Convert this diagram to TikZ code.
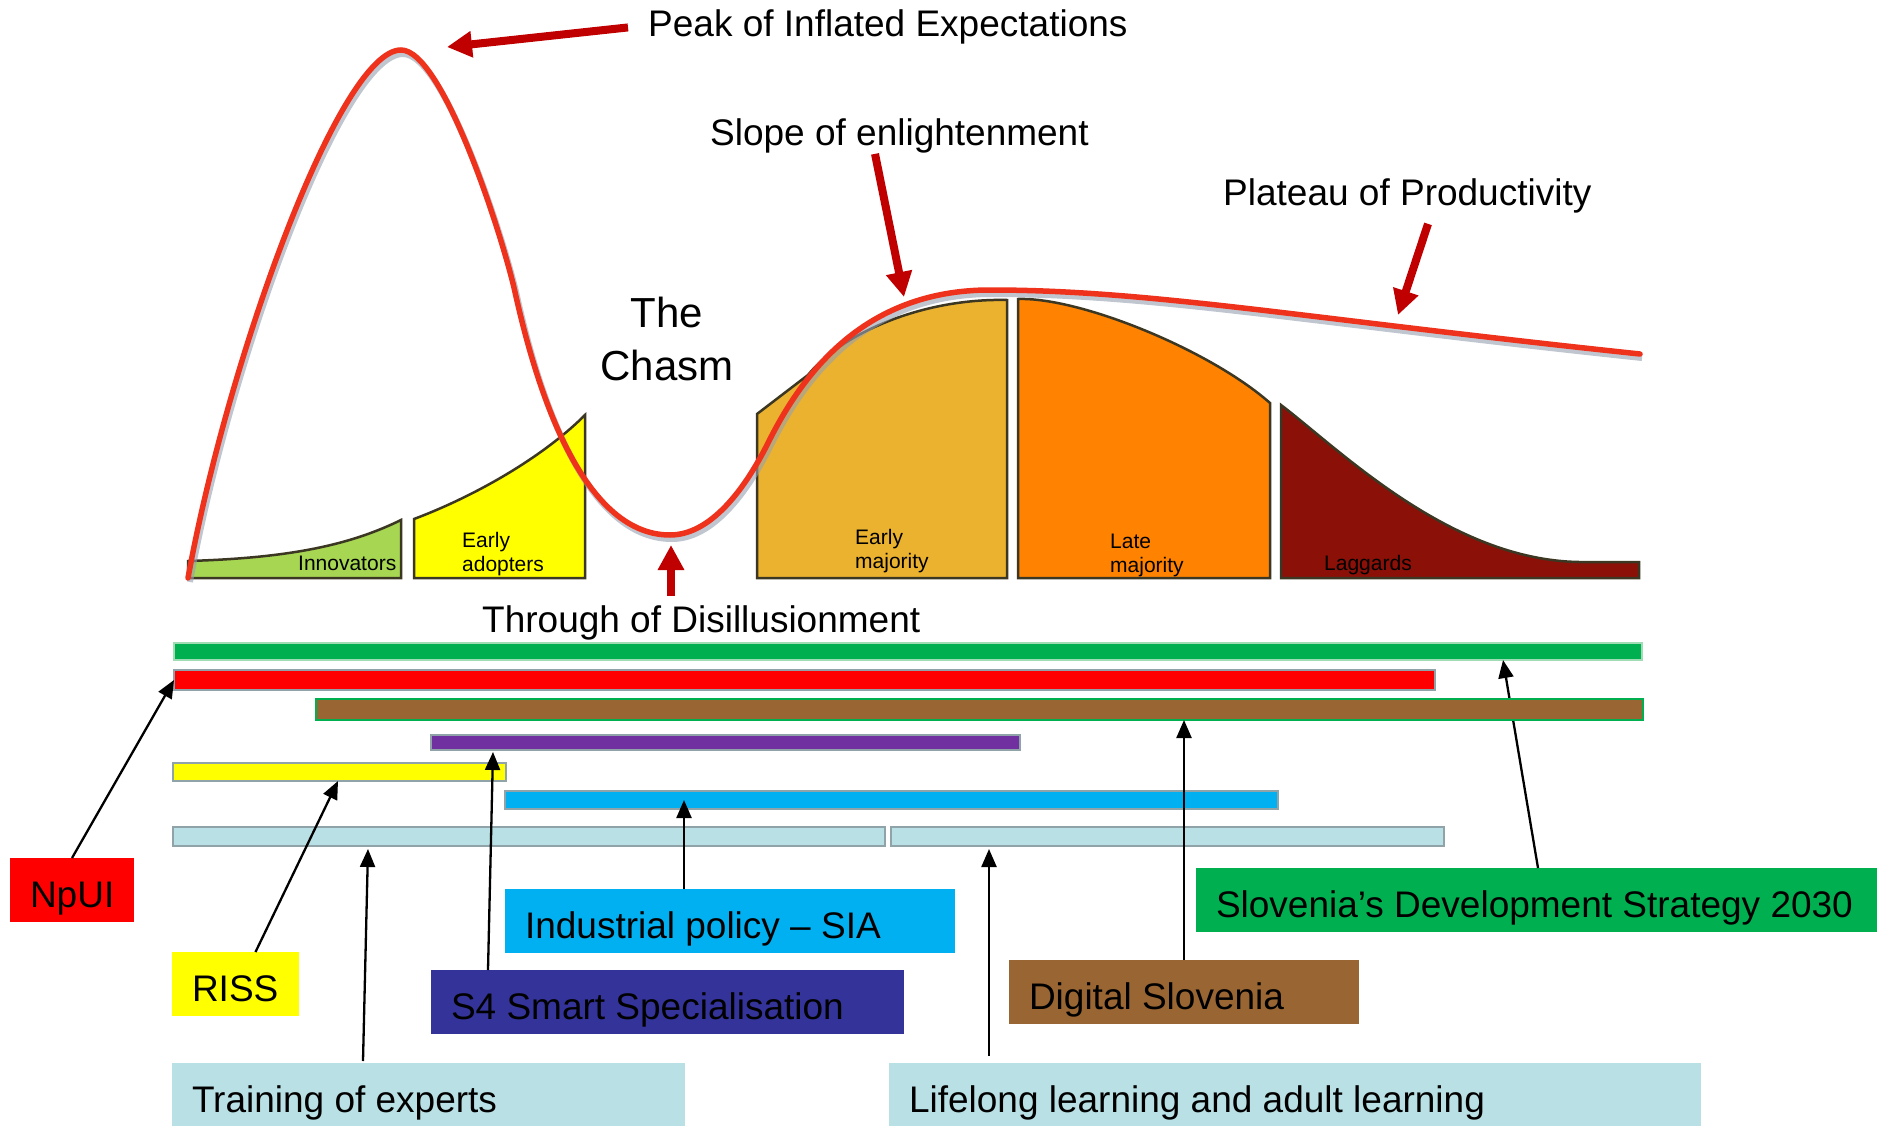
\documentclass[tikz,border=0pt]{standalone}
\usepackage{fontspec}
\setmainfont{Liberation Sans}
\usetikzlibrary{arrows.meta}
\definecolor{innov}{RGB}{166,214,82}
\definecolor{eadopt}{RGB}{255,255,0}
\definecolor{emaj}{RGB}{235,178,47}
\definecolor{lmaj}{RGB}{255,130,0}
\definecolor{lagg}{RGB}{139,16,8}
\definecolor{segline}{RGB}{60,55,35}
\definecolor{hypered}{RGB}{238,50,28}
\definecolor{hypeshadow}{RGB}{150,160,175}
\definecolor{arrred}{RGB}{192,0,0}
\definecolor{gfill}{RGB}{0,176,80}
\definecolor{glight}{RGB}{160,220,180}
\definecolor{barout}{RGB}{143,163,168}
\definecolor{brownfill}{RGB}{153,102,51}
\definecolor{purp}{RGB}{112,48,160}
\definecolor{skyb}{RGB}{0,176,240}
\definecolor{lblue}{RGB}{185,224,228}
\definecolor{navyb}{RGB}{51,51,153}
\begin{document}
\begin{tikzpicture}[x=1pt,y=-1pt,
  seg/.style={draw=segline, line width=2.5pt, line join=miter},
  smlbl/.style={font=\fontsize{21}{24}\selectfont, anchor=base west, inner sep=0pt, align=left},
  biglbl/.style={font=\fontsize{37}{44}\selectfont, anchor=base west, inner sep=0pt},
  hype/.style={draw=hypered, line width=5.5pt, line cap=round},
  redarr/.style={draw=arrred, line width=8pt, -{Triangle[length=25pt,width=25pt]}},
  blkarr/.style={draw=black, line width=2.3pt, -{Triangle[length=18pt,width=15pt]}},
  bar/.style={anchor=north west, inner sep=0pt, outer sep=0pt, line width=2pt},
  lbox/.style={anchor=north west, inner xsep=20pt, inner ysep=0pt, outer sep=0pt,
    minimum height=64pt, font=\fontsize{37}{44}\selectfont, text height=34pt, text depth=0pt}]
\useasboundingbox (0,0) rectangle (1877,1126);
\fill[white] (0,0) rectangle (1877,1126);

% adoption segments
\draw[seg, fill=innov] (188,578) -- (188,561) .. controls (290,558) and (350,545) .. (401,520) -- (401,578) -- cycle;
\draw[seg, fill=eadopt] (414,578) -- (414,519) .. controls (470,498) and (540,460) .. (585,415) -- (585,578) -- cycle;
\draw[seg, fill=emaj] (757,578) -- (757,414) -- (808,375) .. controls (840,335) and (920,298) .. (1007,300) -- (1007,578) -- cycle;
\draw[seg, fill=lmaj] (1018,578) -- (1018,299) .. controls (1080,297) and (1210,350) .. (1270,403) -- (1270,578) -- cycle;
\draw[seg, fill=lagg] (1281,578) -- (1281,405) .. controls (1340,450) and (1450,560) .. (1579,562) -- (1639,562) -- (1639,578) -- cycle;

\node[smlbl] (inn) at (298,570) {Innovators};
\node[smlbl] (ead) at (462,571) {Early\\adopters};
\node[smlbl] (ema) at (855,568) {Early\\majority};
\node[smlbl] (lma) at (1110,572) {Late\\majority};
\node[smlbl] (lag) at (1324,570) {Laggards};

% hype curve
\begin{scope}[shift={(2,4)}]
\draw[draw=hypeshadow, line width=6pt, opacity=0.6] (188,578) .. controls (228,358) and (340,50) .. (401,50) .. controls (443,50) and (503,238) .. (515,292) .. controls (535,382) and (580,535) .. (670,535) .. controls (715,535) and (750,479) .. (768,443) .. controls (800,379) and (860,290) .. (990,290) .. controls (1150,290) and (1300,318) .. (1640,354);
\end{scope}
\draw[hype] (188,578) .. controls (228,358) and (340,50) .. (401,50) .. controls (443,50) and (503,238) .. (515,292) .. controls (535,382) and (580,535) .. (670,535) .. controls (715,535) and (750,479) .. (768,443) .. controls (800,379) and (860,290) .. (990,290) .. controls (1150,290) and (1300,318) .. (1640,354);

% top labels
\node[biglbl] (peak) at (648,37) {Peak of Inflated Expectations};
\node[biglbl] (slope) at (710,146) {Slope of enlightenment};
\node[biglbl] (plat) at (1223,206) {Plateau of Productivity};
\node[biglbl] (thr) at (482,632) {Through of Disillusionment};
\node[font=\fontsize{42}{53}\selectfont, anchor=base, inner sep=0pt, align=center] (chasm) at (667,380) {The\\Chasm};

\coordinate (peaktip) at (447,47);
\coordinate (slopetip) at (904,297);
\coordinate (plattip) at (1398,315);
\coordinate (chasmtip) at (671,545);
\draw[redarr] ([xshift=-20pt]peak.west) -- (peaktip);
\draw[redarr] ([xshift=165pt]slope.south west) -- (slopetip);
\draw[redarr] ([xshift=205pt,yshift=-10pt]plat.south west) -- (plattip);
\draw[redarr] ([xshift=189pt,yshift=9pt]thr.north west) -- (chasmtip);

% label boxes
\node[lbox, fill=red] (npui) at (10,858) {\makebox[84pt][l]{NpUI}};
\node[lbox, fill=eadopt] (riss) at (172,952) {\makebox[87pt][l]{RISS}};
\node[lbox, fill=skyb] (indus) at (505,889) {\makebox[410pt][l]{Industrial policy – SIA}};
\node[lbox, fill=navyb] (s4) at (431,970) {\makebox[433pt][l]{S4 Smart Specialisation}};
\node[lbox, fill=lblue] (train) at (172,1063) {\makebox[473pt][l]{Training of experts}};
\node[lbox, fill=lblue] (life) at (889,1063) {\makebox[772pt][l]{Lifelong learning and adult learning}};
\node[lbox, fill=brownfill] (digi) at (1009,960) {\makebox[310pt][l]{Digital Slovenia}};
\node[lbox, fill=gfill] (slov) at (1196,868) {\makebox[641pt][l]{Slovenia’s Development Strategy 2030}};

% bars
\node[bar, fill=gfill, draw=glight, minimum width=1468pt, minimum height=17pt] (gbar) at (174,643) {};
\node[bar, fill=red, draw=barout, minimum width=1261pt, minimum height=20pt] (rbar) at (174,670) {};
\draw[blkarr] ([xshift=342pt]slov.north west) -- ([xshift=1329pt]gbar.south west);
\node[bar, fill=brownfill, draw=gfill, minimum width=1327pt, minimum height=21pt] (brbar) at (316,699) {};
\node[bar, fill=purp, draw=barout, minimum width=589pt, minimum height=15pt] (pbar) at (431,735) {};
\node[bar, fill=eadopt, draw=barout, minimum width=333pt, minimum height=18pt] (ybar) at (173,763) {};
\node[bar, fill=skyb, draw=barout, minimum width=773pt, minimum height=18pt] (bbar) at (505,791) {};
\node[bar, fill=lblue, draw=barout, minimum width=712pt, minimum height=19pt] (lb1) at (173,827) {};
\node[bar, fill=lblue, draw=barout, minimum width=553pt, minimum height=19pt] (lb2) at (891,827) {};

% black arrows
\draw[blkarr] (npui.north) -- (rbar.west);
\draw[blkarr] ([xshift=20pt]riss.north) -- ([xshift=165pt]ybar.south west);
\draw[blkarr] ([xshift=191pt,yshift=2pt]train.north west) -- ([xshift=195pt,yshift=-3pt]lb1.south west);
\draw[blkarr] ([xshift=57pt]s4.north west) -- ([xshift=62pt,yshift=-2pt]pbar.south west);
\draw[blkarr] ([xshift=179pt]indus.north west) -- ([xshift=179pt]bbar.west);
\draw[blkarr] ([xshift=100pt,yshift=7pt]life.north west) -- ([xshift=98pt,yshift=-3pt]lb2.south west);
\draw[blkarr] (digi.north) -- ([xshift=868pt]brbar.south west);
\end{tikzpicture}
\end{document}
